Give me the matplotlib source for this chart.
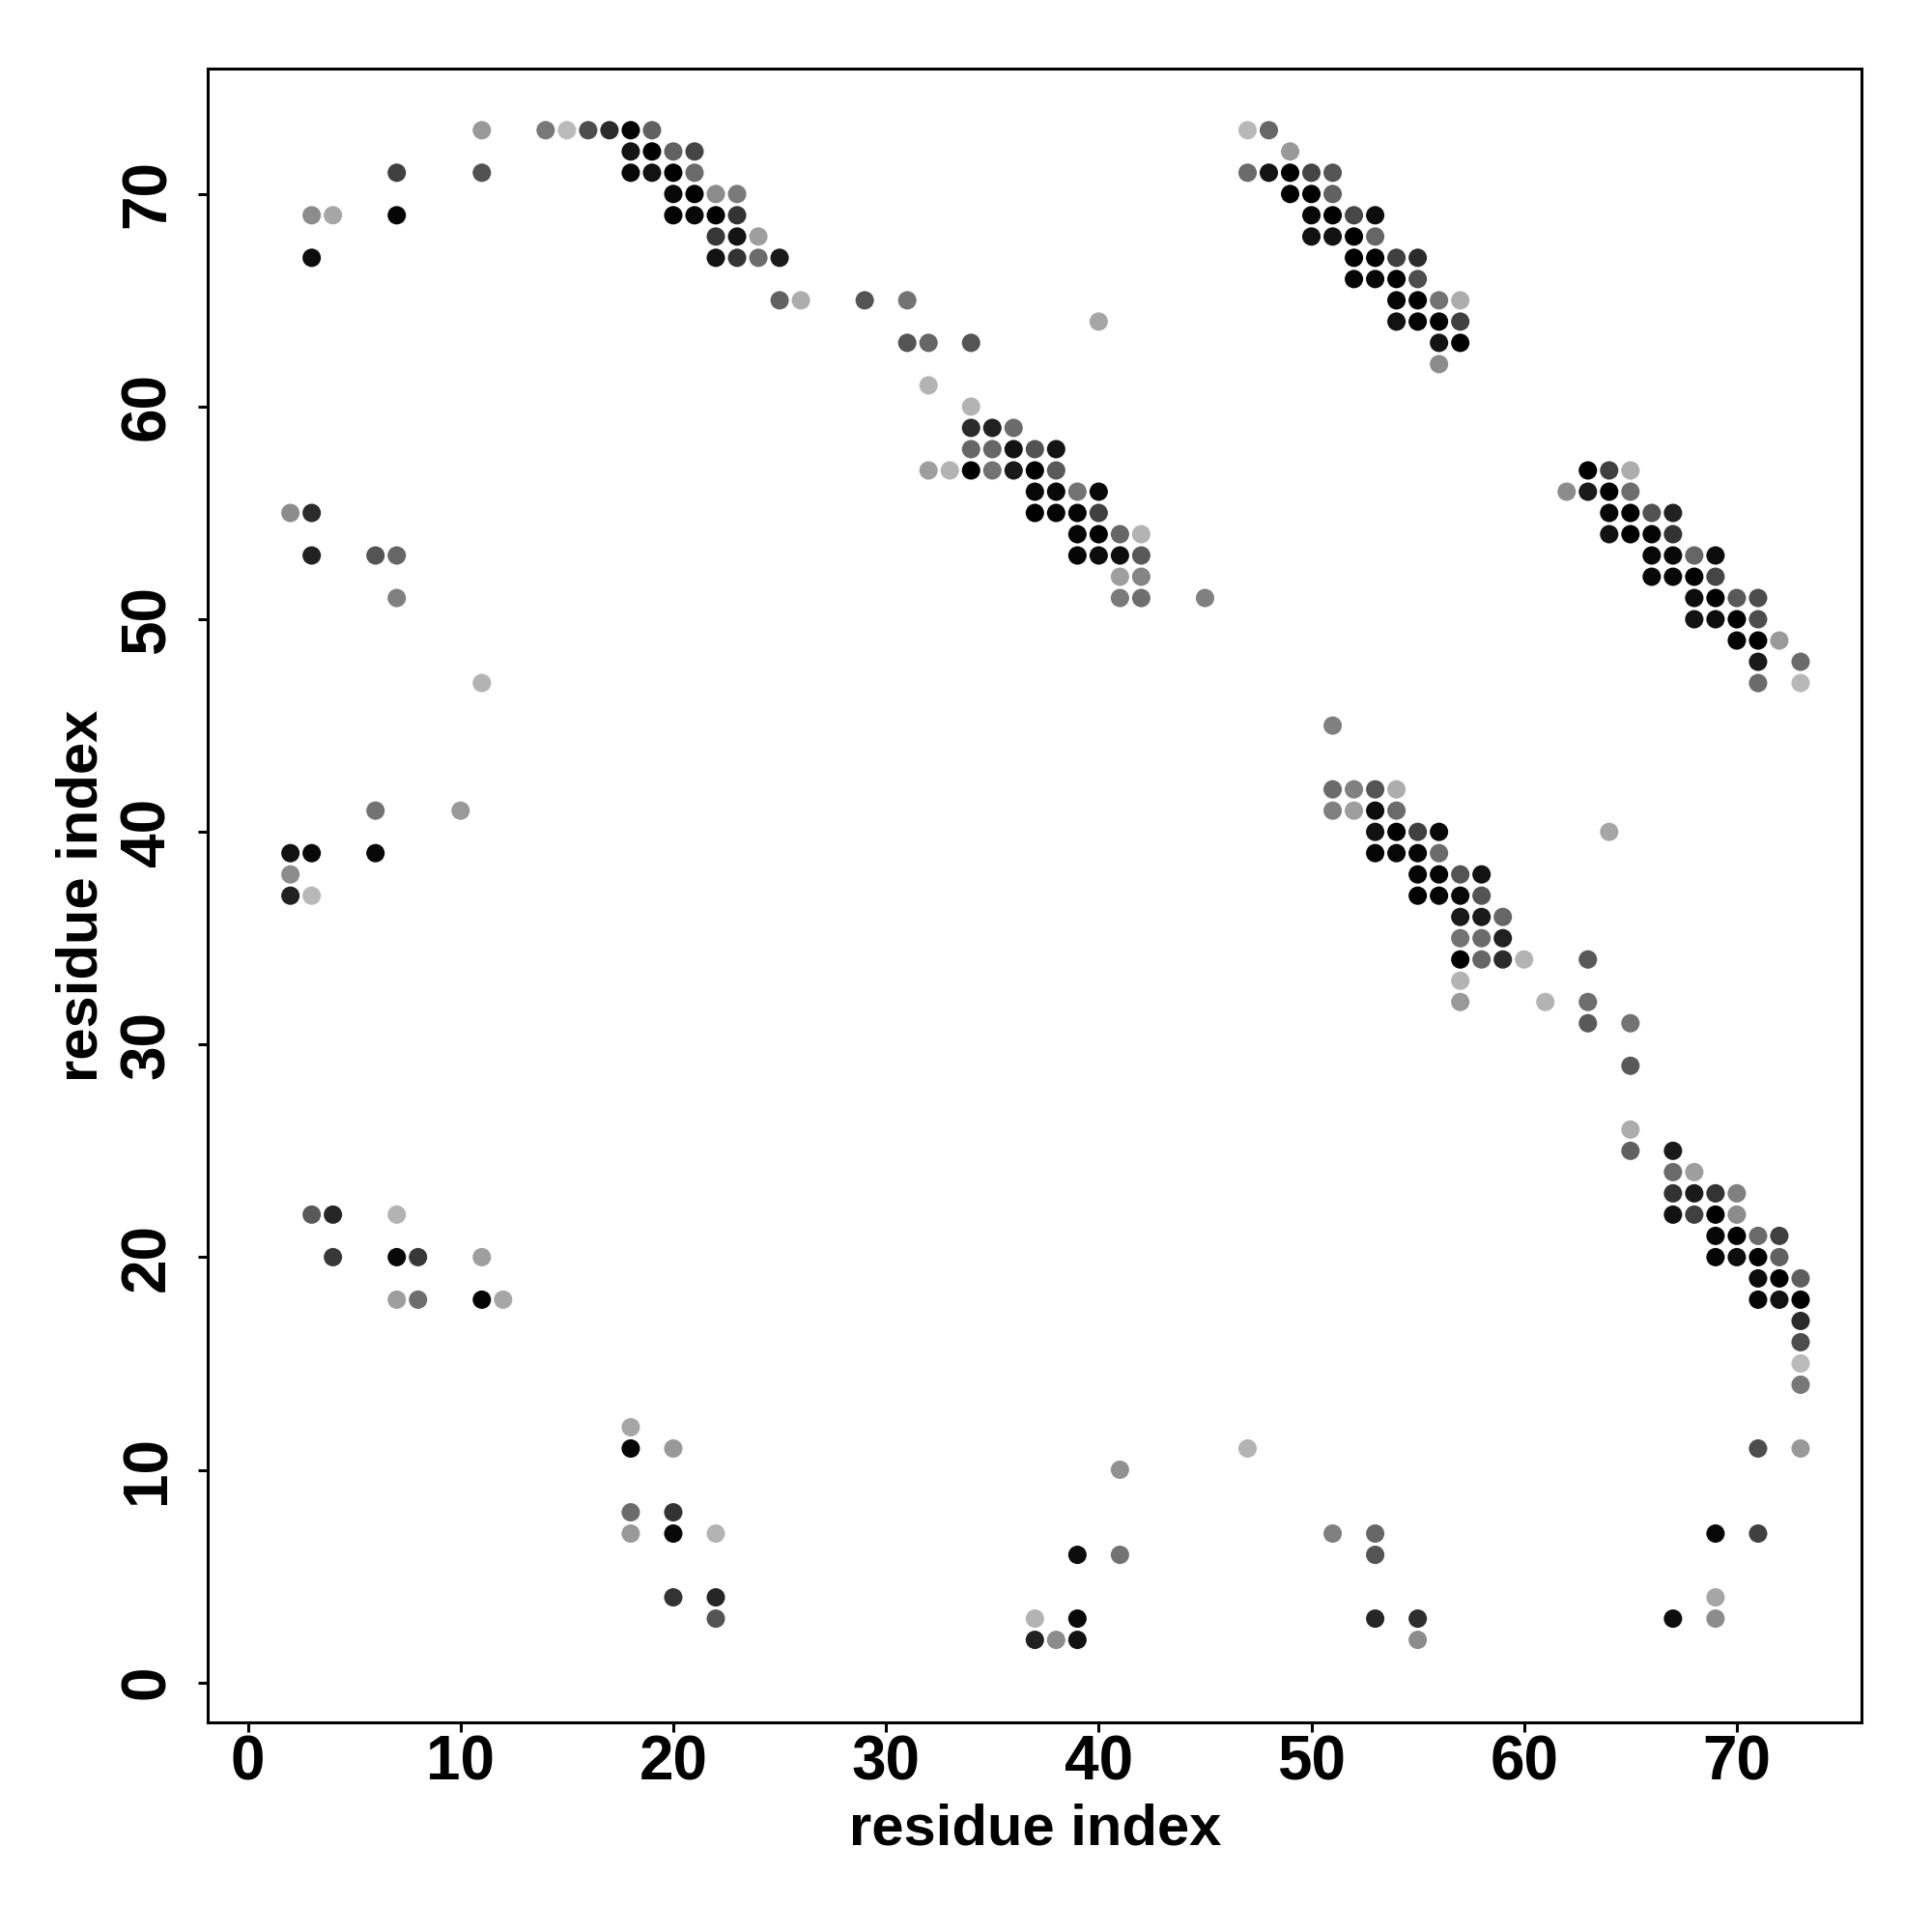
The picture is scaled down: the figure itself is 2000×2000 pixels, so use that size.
import matplotlib
matplotlib.use("Agg")
import matplotlib.pyplot as plt

# contact map points: residue i (x), residue j (y), grey level (0 = black)
res_i = [11, 14, 15, 16, 17, 18, 19, 47, 48,
         18, 19, 20, 21, 49,
         7, 11, 18, 19, 20, 21, 47, 48, 49, 50, 51,
         20, 21, 22, 23, 49, 50, 51,
         3, 4, 7, 20, 21, 22, 23, 50, 51, 52, 53,
         22, 23, 24, 50, 51, 52, 53,
         3, 22, 23, 24, 25, 52, 53, 54, 55,
         52, 53, 54, 55,
         25, 26, 29, 31, 54, 55, 56, 57,
         40, 54, 55, 56, 57,
         31, 32, 34, 56, 57,
         56,
         32,
         34,
         34, 35, 36,
         34, 35, 36, 37, 38,
         32, 33, 34, 35, 36, 37, 38, 63, 64, 65,
         37, 38, 39, 40, 62, 63, 64, 65,
         2, 3, 37, 38, 39, 40, 64, 65, 66, 67,
         39, 40, 41, 42, 64, 65, 66, 67,
         3, 6, 7, 39, 40, 41, 42, 66, 67, 68, 69,
         41, 42, 66, 67, 68, 69,
         7, 41, 42, 45, 68, 69, 70, 71,
         68, 69, 70, 71,
         70, 71, 72,
         71, 73,
         11, 71, 73,
         51,
         51, 52, 53, 54,
         6, 10, 51, 52, 53, 54,
         53, 54, 55, 56, 64,
         2, 3, 6, 53, 54, 55, 56,
         2, 55, 56, 57, 58,
         2, 3, 55, 56, 57, 58,
         57, 58, 59,
         57, 58, 59,
         57, 58, 59, 60, 63,
         57,
         57, 61, 63,
         63, 65,
         65,
         65,
         65, 67,
         67, 68,
         67, 68, 69, 70,
         3, 4, 7, 67, 68, 69, 70,
         69, 70, 71, 72,
         4, 7, 8, 11, 69, 70, 71, 72,
         71, 72, 73,
         7, 8, 11, 12, 71, 72, 73,
         73, 73, 73, 73,
         18,
         18, 20, 47, 71, 73,
         41,
         18, 20,
         18, 20, 22, 51, 53, 69, 71,
         39, 41, 53,
         20, 22, 69,
         22, 37, 39, 53, 55, 67, 69,
         37, 38, 39, 55]

res_j = [73, 73, 73, 73, 73, 73, 73, 73, 73,
         72, 72, 72, 72, 72,
         71, 71, 71, 71, 71, 71, 71, 71, 71, 71, 71,
         70, 70, 70, 70, 70, 70, 70,
         69, 69, 69, 69, 69, 69, 69, 69, 69, 69, 69,
         68, 68, 68, 68, 68, 68, 68,
         67, 67, 67, 67, 67, 67, 67, 67, 67,
         66, 66, 66, 66,
         65, 65, 65, 65, 65, 65, 65, 65,
         64, 64, 64, 64, 64,
         63, 63, 63, 63, 63,
         62,
         61,
         60,
         59, 59, 59,
         58, 58, 58, 58, 58,
         57, 57, 57, 57, 57, 57, 57, 57, 57, 57,
         56, 56, 56, 56, 56, 56, 56, 56,
         55, 55, 55, 55, 55, 55, 55, 55, 55, 55,
         54, 54, 54, 54, 54, 54, 54, 54,
         53, 53, 53, 53, 53, 53, 53, 53, 53, 53, 53,
         52, 52, 52, 52, 52, 52,
         51, 51, 51, 51, 51, 51, 51, 51,
         50, 50, 50, 50,
         49, 49, 49,
         48, 48,
         47, 47, 47,
         45,
         42, 42, 42, 42,
         41, 41, 41, 41, 41, 41,
         40, 40, 40, 40, 40,
         39, 39, 39, 39, 39, 39, 39,
         38, 38, 38, 38, 38,
         37, 37, 37, 37, 37, 37,
         36, 36, 36,
         35, 35, 35,
         34, 34, 34, 34, 34,
         33,
         32, 32, 32,
         31, 31,
         29,
         26,
         25, 25,
         24, 24,
         23, 23, 23, 23,
         22, 22, 22, 22, 22, 22, 22,
         21, 21, 21, 21,
         20, 20, 20, 20, 20, 20, 20, 20,
         19, 19, 19,
         18, 18, 18, 18, 18, 18, 18,
         17, 16, 15, 14,
         12,
         11, 11, 11, 11, 11,
         10,
         8, 8,
         7, 7, 7, 7, 7, 7, 7,
         6, 6, 6,
         4, 4, 4,
         3, 3, 3, 3, 3, 3, 3,
         2, 2, 2, 2]

shade = [0.60, 0.47, 0.73, 0.30, 0.17, 0.02, 0.38, 0.72, 0.40,
         0.08, 0.00, 0.38, 0.27, 0.60,
         0.25, 0.32, 0.03, 0.07, 0.00, 0.42, 0.42, 0.08, 0.00, 0.27, 0.33,
         0.03, 0.00, 0.55, 0.48, 0.00, 0.00, 0.38,
         0.55, 0.65, 0.02, 0.00, 0.03, 0.00, 0.20, 0.03, 0.00, 0.28, 0.05,
         0.22, 0.08, 0.62, 0.07, 0.07, 0.00, 0.40,
         0.05, 0.07, 0.20, 0.42, 0.10, 0.00, 0.00, 0.25, 0.17,
         0.02, 0.03, 0.00, 0.30,
         0.38, 0.68, 0.33, 0.45, 0.02, 0.00, 0.45, 0.68,
         0.65, 0.07, 0.02, 0.00, 0.25,
         0.33, 0.40, 0.33, 0.08, 0.00,
         0.55,
         0.70,
         0.70,
         0.17, 0.13, 0.42,
         0.40, 0.40, 0.07, 0.32, 0.08,
         0.62, 0.70, 0.00, 0.45, 0.10, 0.00, 0.35, 0.00, 0.25, 0.68,
         0.03, 0.03, 0.45, 0.03, 0.55, 0.10, 0.00, 0.43,
         0.55, 0.17, 0.00, 0.02, 0.02, 0.25, 0.03, 0.00, 0.32, 0.13,
         0.02, 0.00, 0.40, 0.70, 0.07, 0.00, 0.02, 0.20,
         0.13, 0.33, 0.40, 0.02, 0.05, 0.05, 0.35, 0.03, 0.03, 0.40, 0.05,
         0.62, 0.52, 0.03, 0.03, 0.00, 0.27,
         0.50, 0.48, 0.43, 0.50, 0.05, 0.00, 0.35, 0.30,
         0.07, 0.05, 0.00, 0.30,
         0.02, 0.00, 0.60,
         0.10, 0.42,
         0.70, 0.42, 0.72,
         0.50,
         0.42, 0.50, 0.33, 0.68,
         0.45, 0.60, 0.50, 0.62, 0.05, 0.42,
         0.07, 0.00, 0.25, 0.03, 0.65,
         0.07, 0.03, 0.03, 0.02, 0.03, 0.02, 0.42,
         0.55, 0.02, 0.02, 0.33, 0.07,
         0.13, 0.72, 0.00, 0.02, 0.03, 0.33,
         0.10, 0.10, 0.40,
         0.45, 0.42, 0.13,
         0.00, 0.40, 0.17, 0.70, 0.35,
         0.70,
         0.60, 0.70, 0.43,
         0.35, 0.45,
         0.35,
         0.68,
         0.38, 0.10,
         0.42, 0.62,
         0.20, 0.10, 0.20, 0.50,
         0.35, 0.15, 0.70, 0.07, 0.25, 0.00, 0.55,
         0.03, 0.00, 0.42, 0.25,
         0.22, 0.03, 0.22, 0.62, 0.02, 0.05, 0.00, 0.38,
         0.05, 0.00, 0.37,
         0.62, 0.43, 0.02, 0.65, 0.02, 0.07, 0.00,
         0.17, 0.30, 0.73, 0.47,
         0.65,
         0.02, 0.60, 0.70, 0.30, 0.60,
         0.57,
         0.42, 0.20,
         0.60, 0.03, 0.70, 0.50, 0.40, 0.03, 0.25,
         0.05, 0.45, 0.33,
         0.20, 0.15, 0.65,
         0.33, 0.70, 0.03, 0.15, 0.18, 0.05, 0.55,
         0.13, 0.55, 0.07, 0.55]

tick_vals = [0, 10, 20, 30, 40, 50, 60, 70]

plt.rcParams['font.family'] = ['Liberation Sans', 'DejaVu Sans']
plt.rcParams['font.weight'] = 'bold'

fig = plt.figure(figsize=(10, 10), dpi=200)
ax = fig.add_axes([0.1076, 0.1085, 0.8561, 0.8558])

cols = [(g, g, g) for g in shade]
ax.scatter(res_i, res_j, s=47, c=cols, edgecolors='none')

ax.set_xlim(-1.88, 75.88)
ax.set_ylim(-1.88, 75.88)
ax.set_xticks(tick_vals)
ax.set_yticks(tick_vals)
ax.set_xticklabels([str(t) for t in tick_vals], fontsize=23, fontweight='bold')
ax.set_yticklabels([str(t) for t in tick_vals], fontsize=23, fontweight='bold',
                   rotation=90, va='center')
ax.tick_params(direction='out', length=3.5, width=1.1)
ax.tick_params(axis='x', pad=1)
ax.tick_params(axis='y', pad=8)
for sp in ax.spines.values():
    sp.set_linewidth(1.1)

ax.set_xlabel("residue index", fontsize=21.5, fontweight='bold', labelpad=4)
ax.set_ylabel("residue index", fontsize=21.5, fontweight='bold', labelpad=4)

fig.savefig("out.png", dpi=200)
